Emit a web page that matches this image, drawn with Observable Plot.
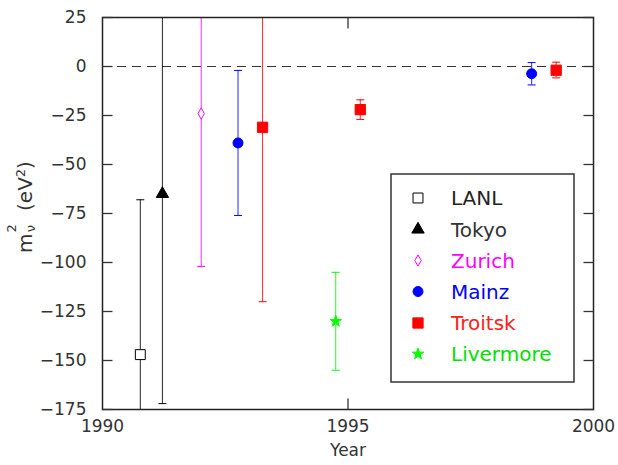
<!DOCTYPE html>
<html><head><meta charset="utf-8">
<script src="https://cdn.jsdelivr.net/npm/d3@7"></script>
<script src="https://cdn.jsdelivr.net/npm/@observablehq/plot@0.6"></script>
<style>
body{margin:0;background:#fff}
#wrap{position:relative;width:618px;height:465px;font-family:"DejaVu Sans",sans-serif}
#overlay{position:absolute;left:0;top:0;pointer-events:none}
</style>
</head><body><div id="wrap"></div>
<script>
// ---- data ----
const experiments = ["LANL", "Tokyo", "Zurich", "Mainz", "Troitsk", "Livermore"];
const expColors = ["#000000", "#000000", "#ff00ff", "#0000ff", "#ff0000", "#00ff00"];
const textColors = ["#222222", "#333333", "#ff00ff", "#0000ff", "#ff2020", "#00e000"];
const pointExperiment = ["LANL", "Tokyo", "Zurich", "Mainz", "Troitsk", "Livermore", "Troitsk", "Mainz", "Troitsk"];
const pointYear  = [1990.77, 1991.22, 1992.01, 1992.76, 1993.26, 1994.75, 1995.25, 1998.74, 1999.24];
const pointValue = [-147, -65, -24, -39, -31, -130, -22, -3.7, -1.9];
const errLow     = [-226, -172, -102, -76, -120, -155, -27, -9.4, -5.8];
const errHigh    = [-68, 42, 54, -2, 58, -105, -17, 2.0, 2.2];
const xTicks = [1990, 1995, 2000];
const xInnerTicks = [1995];
const yTicks = [25, 0, -25, -50, -75, -100, -125, -150, -175];
const xDomain = [1990, 2000];
const yDomain = [-175, 25];

// ---- styling helpers ----
const symbolOf = {
  LANL: d3.symbolSquare, Tokyo: d3.symbolTriangle, Zurich: d3.symbolDiamond,
  Mainz: d3.symbolCircle, Troitsk: d3.symbolSquare, Livermore: d3.symbolStar
};
const radiusOf = {LANL: 5.6, Tokyo: 4.6, Zurich: 3.4, Mainz: 5.0, Troitsk: 5.8, Livermore: 3.6};
const filled = {LANL: false, Tokyo: true, Zurich: false, Mainz: true, Troitsk: true, Livermore: true};
const colorOf = Object.fromEntries(experiments.map((e, i) => [e, expColors[i]]));

const line = (dx, dy) => ({draw(ctx, size) {const r = Math.sqrt(size / Math.PI); ctx.moveTo(0, 0); ctx.lineTo(dx * r, dy * r);}});
const capSym = {draw(ctx, size) {const r = Math.sqrt(size / Math.PI); ctx.moveTo(-r, 0); ctx.lineTo(r, 0);}};
const clampY = v => Math.max(yDomain[0], Math.min(yDomain[1], v));

const rows = pointYear.map((x, i) => ({
  exp: pointExperiment[i], x, y: pointValue[i], lo: errLow[i], hi: errHigh[i]
}));
const caps = rows.flatMap(d => [{exp: d.exp, x: d.x, y: clampY(d.lo)}, {exp: d.exp, x: d.x, y: clampY(d.hi)}]);

const fmt = d => d < 0 ? "\u2212" + (-d) : String(d);

const markMarks = experiments.map(e => Plot.dot(rows.filter(d => d.exp === e), {
  x: "x", y: "y", symbol: symbolOf[e], r: radiusOf[e],
  fill: filled[e] ? colorOf[e] : "white", stroke: colorOf[e], strokeWidth: 1
}));

const chart = Plot.plot({
  width: 618, height: 465,
  marginLeft: 102, marginRight: 25, marginTop: 17, marginBottom: 56,
  style: {fontFamily: "DejaVu Sans, sans-serif", fontSize: "17px", color: "#333", background: "white"},
  x: {domain: xDomain},
  y: {domain: yDomain},
  marks: [
    Plot.ruleY([0], {stroke: "#333", strokeWidth: 1.2, strokeDasharray: "9,6"}),
    Plot.ruleX(rows, {x: "x", y1: "lo", y2: "hi", stroke: d => colorOf[d.exp], strokeWidth: 1, strokeOpacity: 0.85, clip: true}),
    Plot.dot(caps, {x: "x", y: "y", symbol: capSym, r: 4, stroke: d => colorOf[d.exp], fill: "none", strokeWidth: 1}),
    ...markMarks,
    Plot.frame({stroke: "#222", strokeWidth: 1.5}),
    Plot.dot(yTicks, {y: d => d, frameAnchor: "left", symbol: line(1, 0), r: 10, stroke: "#333", fill: "none", strokeWidth: 1.3}),
    Plot.dot(yTicks, {y: d => d, frameAnchor: "right", symbol: line(-1, 0), r: 10, stroke: "#333", fill: "none", strokeWidth: 1.3}),
    Plot.dot(xInnerTicks, {x: d => d, frameAnchor: "bottom", symbol: line(0, -1), r: 11, stroke: "#333", fill: "none", strokeWidth: 1.3}),
    Plot.dot(xInnerTicks, {x: d => d, frameAnchor: "top", symbol: line(0, 1), r: 11, stroke: "#333", fill: "none", strokeWidth: 1.3}),
    Plot.axisX(xTicks, {anchor: "bottom", tickSize: 0, tickPadding: 10, tickFormat: d => String(d), label: null, fill: "#333"}),
    Plot.axisY(yTicks, {anchor: "left", tickSize: 0, tickPadding: 16, tickFormat: fmt, label: null, fill: "#333"}),
    Plot.text(["Year"], {text: d => d, frameAnchor: "bottom", dy: 46, lineAnchor: "bottom", fill: "#333", fontSize: 17})
  ]
});

const wrap = document.getElementById("wrap");
wrap.appendChild(chart);

// ---- overlay: y-axis title and legend (real text) ----
const ov = d3.select(wrap).append("svg").attr("id", "overlay").attr("width", 618).attr("height", 465);

const yl = ov.append("text").attr("transform", "translate(32,253) rotate(-90)")
  .attr("fill", "#333").attr("font-family", "DejaVu Sans, sans-serif").attr("font-size", 20);
yl.append("tspan").text("m");
yl.append("tspan").attr("font-size", 13).attr("dy", -16).attr("dx", 1).text("2");
yl.append("tspan").attr("font-size", 13).attr("dy", 19).attr("dx", -8).text("\u03bd");
yl.append("tspan").attr("dy", -3).attr("dx", 14).text("(eV");
yl.append("tspan").attr("font-size", 13).attr("dy", -7).text("2");
yl.append("tspan").attr("dy", 7).text(")");

const legendRowY = [198, 229.5, 260.5, 291.5, 323, 354];
const lg = ov.append("g");
lg.append("rect").attr("x", 391).attr("y", 174).attr("width", 183).attr("height", 208)
  .attr("fill", "white").attr("stroke", "#333").attr("stroke-width", 1.5);
experiments.forEach((e, i) => {
  const yy = legendRowY[i];
  lg.append("path")
    .attr("d", d3.symbol().type(symbolOf[e]).size(Math.PI * radiusOf[e] ** 2)())
    .attr("transform", `translate(418,${yy})`)
    .attr("fill", filled[e] ? colorOf[e] : "white").attr("stroke", colorOf[e]).attr("stroke-width", 1);
  lg.append("text").attr("x", 451).attr("y", yy).attr("dy", "0.36em")
    .attr("fill", textColors[i]).attr("font-family", "DejaVu Sans, sans-serif").attr("font-size", 20)
    .text(e);
});
</script>
</body></html>
